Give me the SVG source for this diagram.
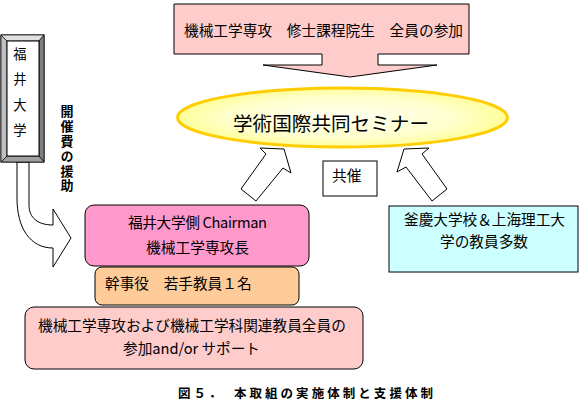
<svg xmlns="http://www.w3.org/2000/svg" width="582" height="411" viewBox="0 0 582 411">
<defs>
<radialGradient id="yel" cx="0.5" cy="0.5" r="0.5">
<stop offset="0" stop-color="#FFFFF2"/>
<stop offset="0.7" stop-color="#FFFFCC"/>
<stop offset="1" stop-color="#FFFF99"/>
</radialGradient>
<style>
.t{font-family:"Noto Sans CJK JP","Noto Sans CJK SC",sans-serif;font-size:14.67px;fill:#000}
.b{font-weight:bold}
.ln{stroke:#000;stroke-width:1}
</style>
</defs>
<rect width="582" height="411" fill="#fff"/>

<g id="connectors">
<path class="ln" fill="#fff" d="M17,162 V198 C17,228 30,248 53,248 V267 L71,238 L53,209 V225 C38,225 29,218 29,205 V162 Z"/>
<path class="ln" fill="#fff" d="M284,149 L260,148 L266,154 L241,189 L256,201 L283,168 L291,173 Z"/>
<path class="ln" fill="#fff" d="M404,149 L429,148 L422,154 L447,189 L432,201 L406,167 L397,172 Z"/>
</g>

<g id="students">
<path class="ln" fill="#FFCCCC" d="M174,4 H469 V54 H378 V65 H437 L350,77 L263,65 H322 V54 H174 Z"/>
<text class="t" x="184" y="36" textLength="279">機械工学専攻　修士課程院生　全員の参加</text>
</g>

<g id="seminar">
<ellipse cx="342.5" cy="117.5" rx="165" ry="29.5" fill="url(#yel)" stroke="#FFCC00" stroke-width="3"/>
<text class="t" x="233" y="131" style="font-size:19.6px" textLength="196">学術国際共同セミナー</text>
</g>

<g id="fukui">
<rect x="1" y="35" width="43" height="127" fill="#fff" stroke="#000"/>
<polygon points="1,35 44,35 39,41 7,41" fill="#E0E0E0" stroke="#000" stroke-width="0.7"/>
<polygon points="1,35 7,41 7,156 1,162" fill="#C0C0C0" stroke="#000" stroke-width="0.7"/>
<polygon points="44,35 44,162 39,156 39,41" fill="#808080" stroke="#000" stroke-width="0.7"/>
<polygon points="1,162 7,156 39,156 44,162" fill="#A0A0A0" stroke="#000" stroke-width="0.7"/>
<rect x="7" y="41" width="32" height="115" fill="#fff" stroke="#000"/>
<g class="t" style="font-size:13.3px" text-anchor="middle">
<text x="20" y="59">福</text>
<text x="20" y="84">井</text>
<text x="20" y="110">大</text>
<text x="20" y="135">学</text>
</g>
</g>

<g id="funding">
<text class="t b" x="67" y="105" writing-mode="vertical-rl" style="font-size:13px;letter-spacing:1.8px">開催費の援助</text>
</g>

<g id="chairman">
<rect x="85" y="205" width="224" height="61" rx="9" fill="#FF99CC" stroke="#000"/>
<text class="t" x="128" y="228" textLength="139">福井大学側 Chairman</text>
<text class="t" x="146" y="253" textLength="103">機械工学専攻長</text>
</g>

<g id="secretary">
<rect x="95" y="267" width="204" height="38" rx="7" fill="#FFCC99" stroke="#000"/>
<text class="t" x="105" y="289">幹事役　若手教員１名</text>
</g>

<g id="staff">
<rect x="25" y="307" width="338" height="62" rx="9" fill="#FFCCCC" stroke="#000"/>
<text class="t" x="38" y="331">機械工学専攻および機械工学科関連教員全員の</text>
<text class="t" x="123" y="354" textLength="137">参加and/or サポート</text>
</g>

<g id="cohost">
<rect x="323" y="161" width="54" height="35" fill="#fff" stroke="#000"/>
<text class="t" x="332" y="181">共催</text>
</g>

<g id="partners">
<rect x="389" y="206" width="189" height="66" fill="#CCFFFF" stroke="#000"/>
<text class="t" x="404" y="225" textLength="161">釜慶大学校＆上海理工大</text>
<text class="t" x="440" y="247">学の教員多数</text>
</g>

<g id="caption">
<text class="t b" x="178" y="398" style="font-size:12.5px" textLength="255">図５．　本取組の実施体制と支援体制</text>
</g>
</svg>
